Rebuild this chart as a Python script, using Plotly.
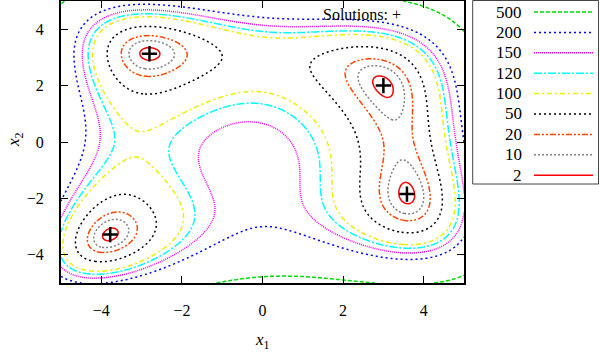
import numpy as np
import plotly.graph_objects as go

# Contour levels and styles (legend order, top to bottom)
levels = [500, 200, 150, 120, 100, 50, 20, 10, 2]
level_colors = ["#00dd00", "#0000ff", "#ff00ff", "#00ffff", "#eeee00",
                "#000000", "#ff4500", "#808080", "#ff0000"]
level_dashes = ["4px,2px", "2px,3px", "1px,1px", "8px,2px,2px,2px", "5px,3px,2px,3px",
                "2px,3px", "6px,2px,2px,2px,2px,2px", "2px,2px", "solid"]

# Solutions (minima of the surface)
sol_x = [3.0, -2.805118, -3.779310, 3.584428]
sol_y = [2.0, 3.131312, -3.283186, -1.848126]

tick_vals = [-4, -2, 0, 2, 4]

# Surface: Himmelblau's function on a grid
xs = np.linspace(-5, 5, 301)
ys = np.linspace(-5, 5, 301)
X, Y = np.meshgrid(xs, ys)
Z = (X**2 + Y - 11) ** 2 + (X + Y**2 - 7) ** 2

fig = go.Figure()
for lvl, col, dsh in zip(levels, level_colors, level_dashes):
    fig.add_trace(go.Contour(
        x=xs, y=ys, z=Z, autocontour=False,
        contours=dict(start=lvl, end=lvl, size=1, coloring="none"),
        line=dict(color=col, dash=dsh, width=1.5),
        showscale=False, showlegend=False, hoverinfo="skip"))

fig.add_trace(go.Scatter(
    x=sol_x, y=sol_y, mode="markers", showlegend=False, hoverinfo="skip",
    marker=dict(symbol="cross-thin", size=11, line=dict(color="black", width=2.5))))

FONT = "Liberation Serif"
L, R, T, B = 61, 135, 1, 71
W, H = 599, 354
pw, ph = W - L - R, H - T - B

def px2x(px):
    return (px - L) / pw

def py2y(py):
    return (H - B - py) / ph

shapes = []
annotations = []
# legend box
shapes.append(dict(type="rect", xref="paper", yref="paper",
                   x0=px2x(472.7), x1=px2x(598.5), y0=py2y(184), y1=py2y(0.5),
                   line=dict(color="#444444", width=1), fillcolor="white"))
for i, (lvl, col, dsh) in enumerate(zip(levels, level_colors, level_dashes)):
    py = 12 + i * 20.4
    annotations.append(dict(xref="paper", yref="paper", x=px2x(524), y=py2y(py),
                            text=str(lvl), showarrow=False, xanchor="right",
                            yanchor="middle", font=dict(family=FONT, size=17, color="black")))
    shapes.append(dict(type="line", xref="paper", yref="paper",
                       x0=px2x(534), x1=px2x(593), y0=py2y(py), y1=py2y(py),
                       line=dict(color=col, dash=dsh, width=1.5)))

annotations.append(dict(xref="paper", yref="paper", x=px2x(362), y=py2y(15),
                        text="Solutions: +", showarrow=False, xanchor="center",
                        yanchor="middle", font=dict(family=FONT, size=16, color="black")))
annotations.append(dict(xref="paper", yref="paper", x=px2x(262), y=py2y(341),
                        text="<i>x</i><sub>1</sub>", showarrow=False, xanchor="center",
                        yanchor="middle", font=dict(family=FONT, size=17, color="black")))
annotations.append(dict(xref="paper", yref="paper", x=px2x(15), y=py2y(140),
                        text="<i>x</i><sub>2</sub>", showarrow=False, textangle=-90,
                        xanchor="center", yanchor="middle",
                        font=dict(family=FONT, size=17, color="black")))

axis_common = dict(range=[-5, 5], tickvals=tick_vals, ticks="inside", ticklen=7,
                   tickwidth=1, tickcolor="black", showline=True, linecolor="black",
                   linewidth=2, mirror="ticks", showgrid=False, zeroline=False,
                   tickfont=dict(family=FONT, size=16, color="black"))

fig.update_layout(
    width=W, height=H, margin=dict(l=L, r=R, t=T, b=B, autoexpand=False),
    paper_bgcolor="white", plot_bgcolor="white",
    font=dict(family=FONT, color="black"),
    xaxis=dict(**axis_common, ticklabelstandoff=12),
    yaxis=dict(**axis_common, ticklabelstandoff=12),
    shapes=shapes, annotations=annotations, showlegend=False,
)

fig.write_html("out.html", config={"displayModeBar": False},
               post_script="document.body.style.margin='0';")
